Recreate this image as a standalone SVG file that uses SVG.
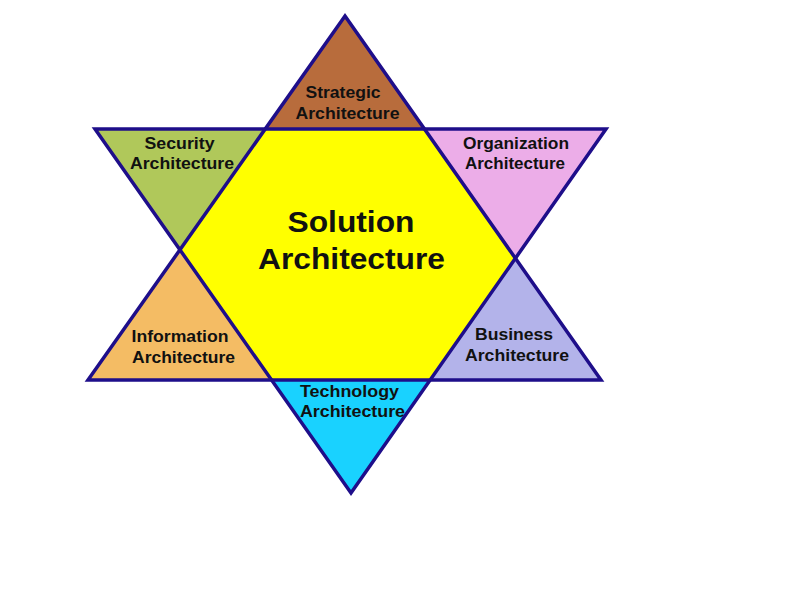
<svg xmlns="http://www.w3.org/2000/svg" width="800" height="600" viewBox="0 0 800 600">
  <style>
    .lbl { font-family: "Liberation Sans", Arial, sans-serif; font-weight: bold; font-size: 16px; fill: #111; text-anchor: middle; }
    .big { font-size: 30px; }
    .edge { fill: none; stroke: #1E0E8A; stroke-width: 3.5; stroke-linejoin: miter; }
  </style>
  <rect x="0" y="0" width="800" height="600" fill="#ffffff"/>
  <g id="solution">
    <polygon points="265,129 424.5,129 515.4,258 430.2,380 271.5,380 180,249.8" fill="#FFFF00"/>
    <text class="lbl big" x="351" y="232" textLength="127" lengthAdjust="spacingAndGlyphs">Solution</text>
    <text class="lbl big" x="351.5" y="269" textLength="187" lengthAdjust="spacingAndGlyphs">Architecture</text>
  </g>
  <g id="strategic">
    <polygon points="345,16 424.5,129 265,129" fill="#B86C3C"/>
    <text class="lbl" x="343" y="98" textLength="75" lengthAdjust="spacingAndGlyphs">Strategic</text>
    <text class="lbl" x="347.5" y="118.5" textLength="104" lengthAdjust="spacingAndGlyphs">Architecture</text>
  </g>
  <g id="security">
    <polygon points="95,129 265,129 180,249.8" fill="#B0C85A"/>
    <text class="lbl" x="179.5" y="149" textLength="70" lengthAdjust="spacingAndGlyphs">Security</text>
    <text class="lbl" x="182" y="168.5" textLength="104" lengthAdjust="spacingAndGlyphs">Architecture</text>
  </g>
  <g id="organization">
    <polygon points="424.5,129 606,129 515.4,258" fill="#ECADE8"/>
    <text class="lbl" x="516" y="148.5" textLength="106" lengthAdjust="spacingAndGlyphs">Organization</text>
    <text class="lbl" x="515" y="169" textLength="100" lengthAdjust="spacingAndGlyphs">Architecture</text>
  </g>
  <g id="information">
    <polygon points="180,249.8 271.5,380 88,380" fill="#F4BC64"/>
    <text class="lbl" x="180" y="342" textLength="97" lengthAdjust="spacingAndGlyphs">Information</text>
    <text class="lbl" x="183.5" y="362.5" textLength="103" lengthAdjust="spacingAndGlyphs">Architecture</text>
  </g>
  <g id="business">
    <polygon points="515.4,258 601,380 430.2,380" fill="#B3B3EA"/>
    <text class="lbl" x="514" y="340" textLength="78" lengthAdjust="spacingAndGlyphs">Business</text>
    <text class="lbl" x="517" y="361" textLength="104" lengthAdjust="spacingAndGlyphs">Architecture</text>
  </g>
  <g id="technology">
    <polygon points="271.5,380 430.2,380 351,493" fill="#19D2FF"/>
    <text class="lbl" x="349.5" y="397" textLength="99" lengthAdjust="spacingAndGlyphs">Technology</text>
    <text class="lbl" x="352.5" y="417" textLength="105" lengthAdjust="spacingAndGlyphs">Architecture</text>
  </g>
  <g id="connectors">
    <polygon class="edge" points="345,16 601,380 88,380"/>
    <polygon class="edge" points="95,129 606,129 351,493"/>
  </g>
</svg>
